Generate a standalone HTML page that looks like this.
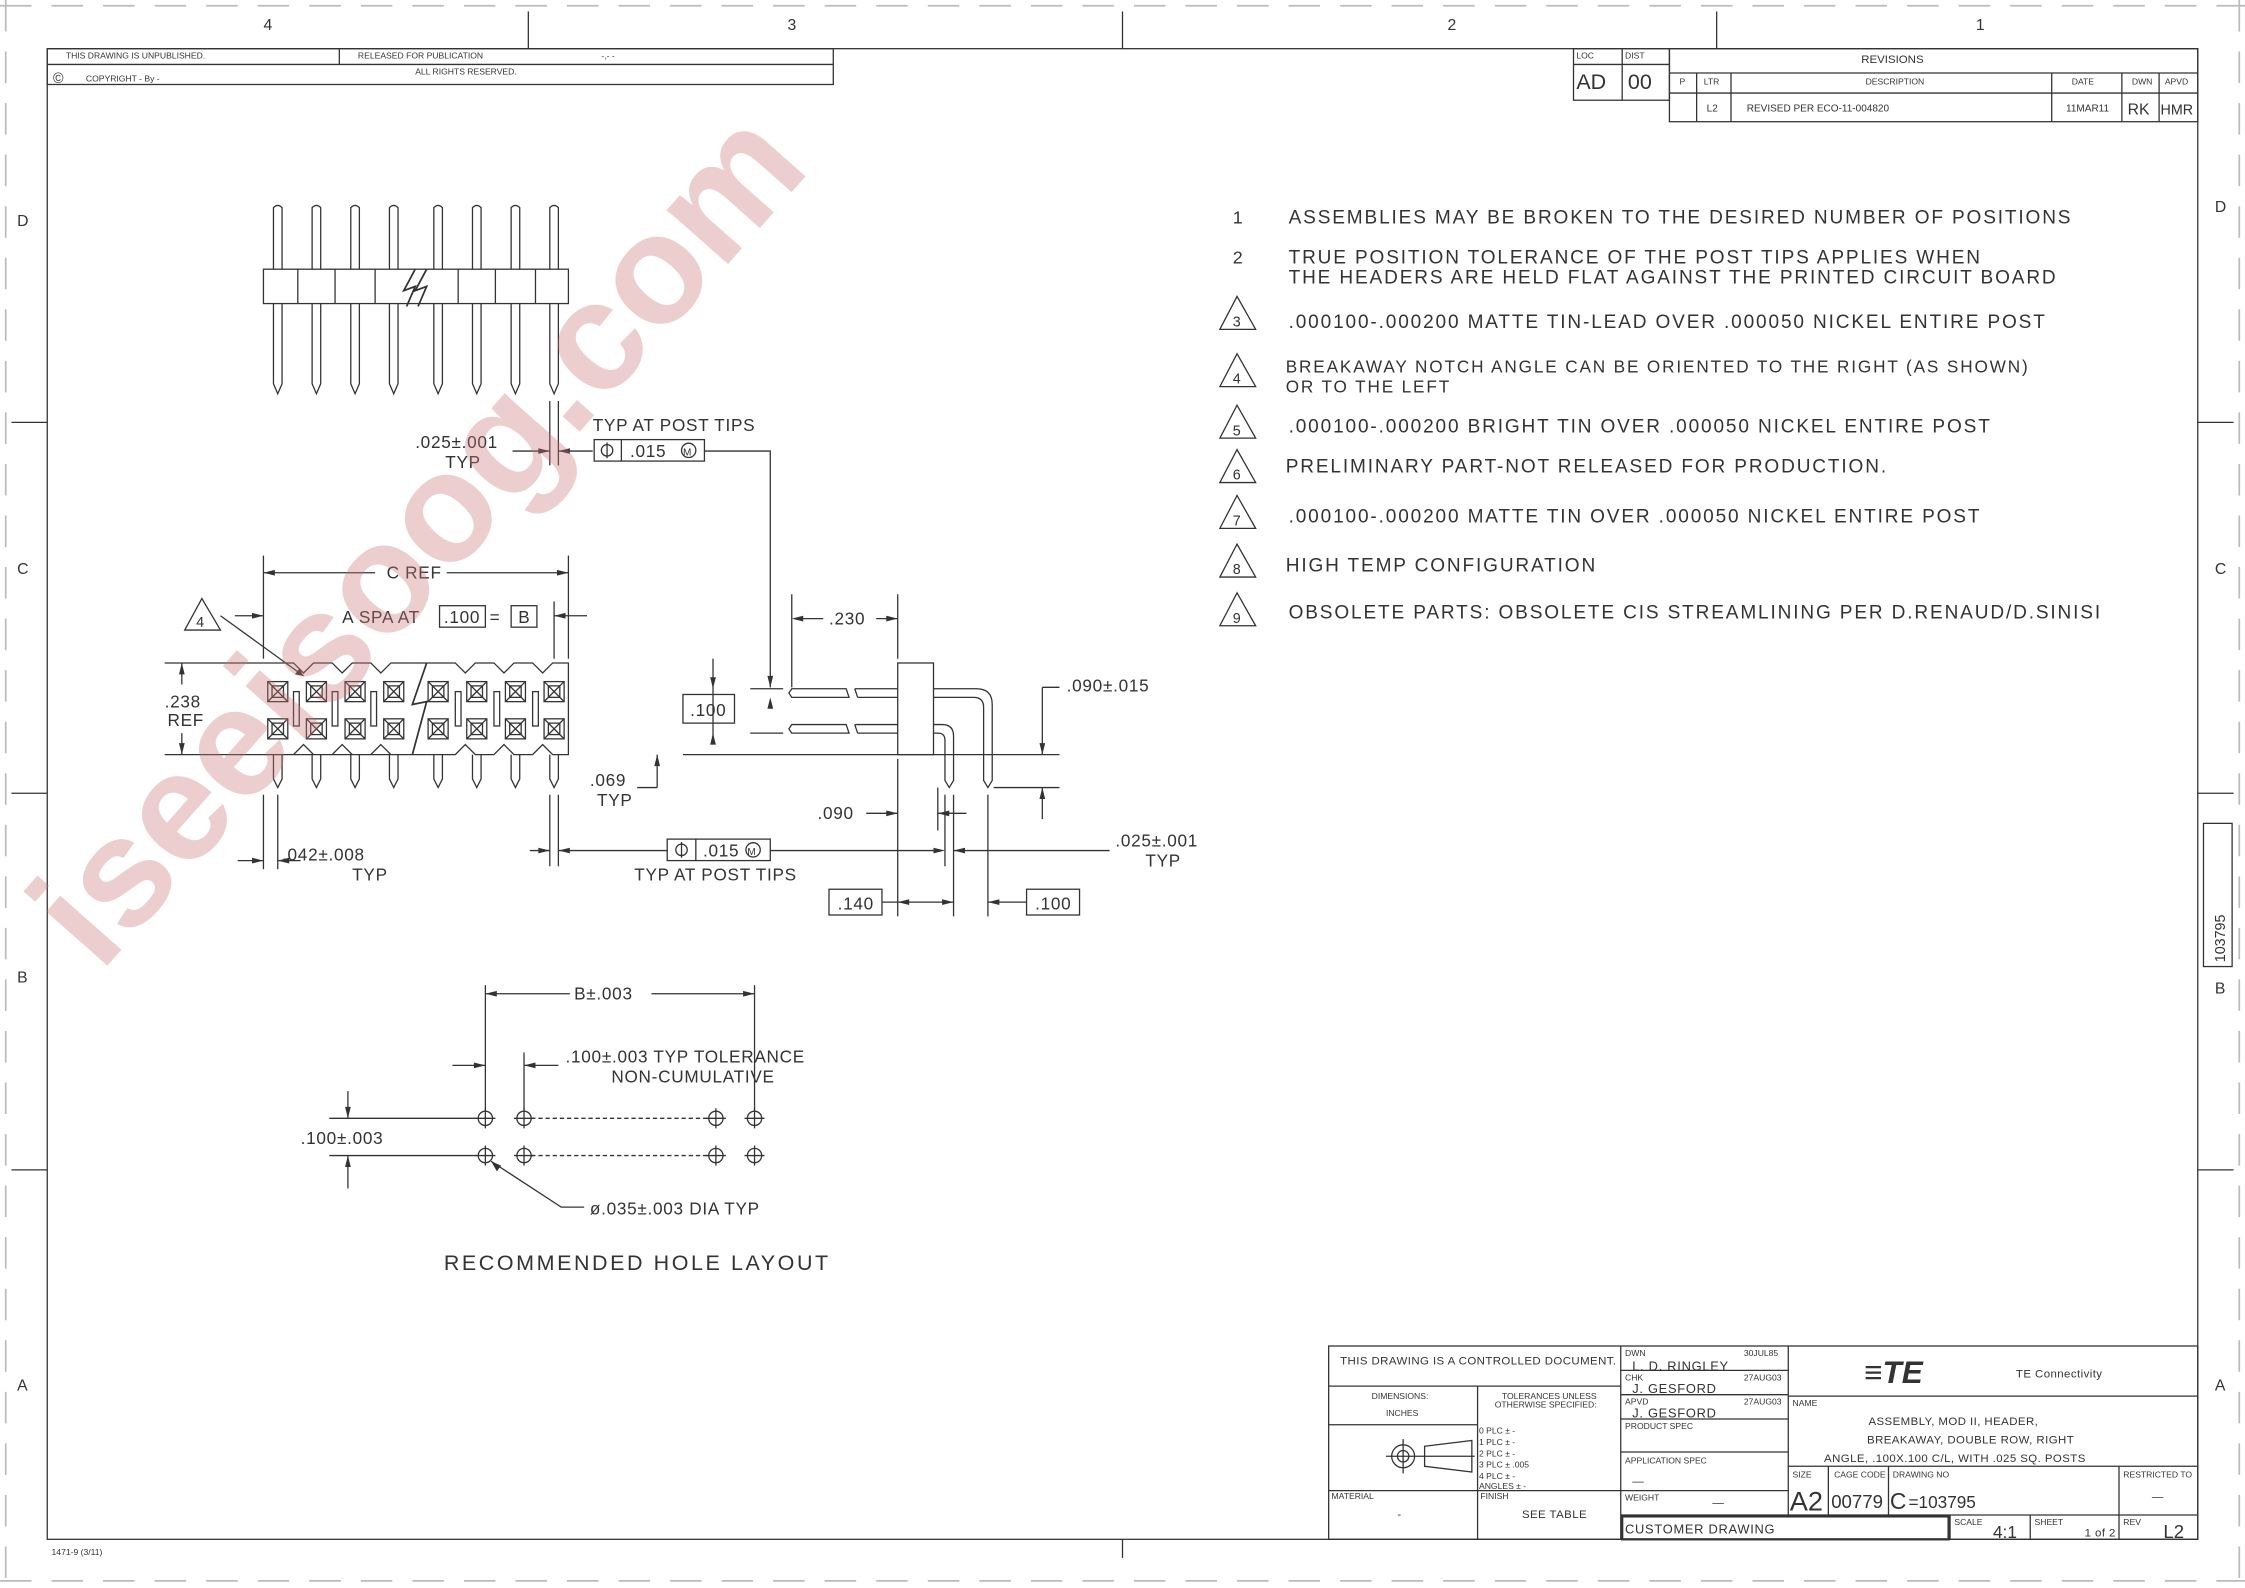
<!DOCTYPE html>
<html><head><meta charset="utf-8"><style>
html,body{margin:0;padding:0;background:#fff}
svg{display:block}
text{font-family:"Liberation Sans",sans-serif;fill:#333}
</style></head><body>
<svg width="2245" height="1588" viewBox="0 0 1568 1109" preserveAspectRatio="none" xmlns="http://www.w3.org/2000/svg">
<g stroke="#bbb" stroke-width="1.2" stroke-dasharray="22,14" fill="none">
<line x1="0" y1="4" x2="1568" y2="4"/><line x1="0" y1="1104" x2="1568" y2="1104"/>
<line x1="4" y1="0" x2="4" y2="1109"/><line x1="1564" y1="0" x2="1564" y2="1109"/>
</g>
<g stroke="#333" stroke-width="0.9" fill="none">
<rect x="33" y="34" width="1502" height="1041"/>
<line x1="369" y1="8" x2="369" y2="34"/><line x1="784" y1="8" x2="784" y2="34"/><line x1="1199" y1="8" x2="1199" y2="34"/>
<line x1="784" y1="1075" x2="784" y2="1088"/>
<line x1="8" y1="295" x2="33" y2="295"/><line x1="8" y1="554" x2="33" y2="554"/><line x1="8" y1="817" x2="33" y2="817"/>
<line x1="1535" y1="295" x2="1560" y2="295"/><line x1="1535" y1="554" x2="1560" y2="554"/><line x1="1535" y1="817" x2="1560" y2="817"/>
<rect x="1539" y="575" width="20" height="100"/>
<rect x="33" y="34" width="549" height="25"/><line x1="33" y1="45" x2="582" y2="45"/><line x1="237" y1="34" x2="237" y2="45"/>
<rect x="1099" y="34" width="67" height="36"/><line x1="1133" y1="34" x2="1133" y2="70"/><line x1="1099" y1="45" x2="1166" y2="45"/>
<rect x="1166" y="34" width="369" height="51"/><line x1="1166" y1="51" x2="1535" y2="51"/><line x1="1166" y1="65" x2="1535" y2="65"/>
<line x1="1185" y1="51" x2="1185" y2="85"/><line x1="1209" y1="51" x2="1209" y2="85"/><line x1="1433" y1="51" x2="1433" y2="85"/><line x1="1482" y1="51" x2="1482" y2="85"/><line x1="1508" y1="51" x2="1508" y2="85"/>
<rect x="928" y="940" width="607" height="135"/>
<line x1="1132" y1="940" x2="1132" y2="1075"/><line x1="1249" y1="940" x2="1249" y2="1058"/>
<line x1="928" y1="968" x2="1132" y2="968"/><line x1="928" y1="995" x2="1032" y2="995"/><line x1="928" y1="1041" x2="1132" y2="1041"/>
<line x1="1032" y1="968" x2="1032" y2="1075"/>
<line x1="1132" y1="957" x2="1249" y2="957"/><line x1="1132" y1="974" x2="1249" y2="974"/><line x1="1132" y1="991" x2="1249" y2="991"/><line x1="1132" y1="1014" x2="1249" y2="1014"/><line x1="1132" y1="1041" x2="1249" y2="1041"/>
<line x1="1249" y1="975" x2="1535" y2="975"/><line x1="1249" y1="1024" x2="1535" y2="1024"/>
<line x1="1132" y1="1058" x2="1535" y2="1058"/>
<line x1="1277" y1="1024" x2="1277" y2="1058"/><line x1="1319" y1="1024" x2="1319" y2="1058"/><line x1="1480" y1="1024" x2="1480" y2="1075"/>
<line x1="1362" y1="1058" x2="1362" y2="1075"/><line x1="1418" y1="1058" x2="1418" y2="1075"/>
<rect x="1133" y="1059" width="228" height="16" stroke-width="1.6"/>
<circle cx="980" cy="1017" r="8"/><circle cx="980" cy="1017" r="4"/><line x1="968" y1="1017" x2="1030" y2="1017"/><line x1="980" y1="1005" x2="980" y2="1029"/>
<path d="M995 1010 L1028 1006 L1028 1028 L995 1024 Z"/>
<path d="M852 230 L864 207 L877 230 Z M852 270 L864 247 L877 270 Z M852 306 L864 283 L877 306 Z M852 337 L864 314 L877 337 Z M852 369 L864 346 L877 369 Z M852 403 L864 380 L877 403 Z M852 437 L864 414 L877 437 Z"/>
<rect x="184" y="188" width="213" height="24"/>
<g>
<path d="M191 188 V145 Q194 142 197 145 V188 M191 212 V268 L194 275 L197 268 V212"/>
<path d="M218 188 V145 Q221 142 224 145 V188 M218 212 V268 L221 275 L224 268 V212"/>
<path d="M245 188 V145 Q248 142 251 145 V188 M245 212 V268 L248 275 L251 268 V212"/>
<path d="M272 188 V145 Q275 142 278 145 V188 M272 212 V268 L275 275 L278 268 V212"/>
<path d="M303 188 V145 Q306 142 309 145 V188 M303 212 V268 L306 275 L309 268 V212"/>
<path d="M330 188 V145 Q333 142 336 145 V188 M330 212 V268 L333 275 L336 268 V212"/>
<path d="M357 188 V145 Q360 142 363 145 V188 M357 212 V268 L360 275 L363 268 V212"/>
<path d="M384 188 V145 Q387 142 390 145 V188 M384 212 V268 L387 275 L390 268 V212"/>
</g>
<path d="M208 188V212 M234 188V212 M262 188V212 M320 188V212 M346 188V212 M374 188V212"/>
<path d="M290 188 L282 203 L290 200 L284 214 M298 188 L290 203 L298 200 L292 214" stroke-width="1.2"/>
<line x1="384" y1="280" x2="384" y2="325"/><line x1="390" y1="280" x2="390" y2="325"/>
<line x1="358" y1="315" x2="384" y2="315"/><line x1="390" y1="315" x2="414" y2="315"/>
<rect x="415" y="307" width="77" height="15"/><line x1="434" y1="307" x2="434" y2="322"/>
<circle cx="424" cy="314.5" r="4"/><line x1="424" y1="309" x2="424" y2="320"/><circle cx="481" cy="314.5" r="5"/>
<path d="M492 315 H538 V480"/>
<path d="M184 463 H205 L212 470 L219 463 H232 L239 470 L246 463 H259 L266 470 L273 463 H286 M298 463 H318 L325 470 L332 463 H345 L352 470 L359 463 H372 L379 470 L386 463 H397 V527 H386 L379 520 L372 527 H359 L352 520 L345 527 H332 L325 520 L318 527 H298 M286 527 H273 L266 520 L259 527 H246 L239 520 L232 527 H219 L212 520 L205 527 H184 Z"/>
<path d="M286 463 L298 463 M286 527 L298 527"/>
<path d="M298 463 L288 492 L298 490 L288 527" stroke-width="1.2"/>
<g id="sq">
<rect x="187" y="476" width="14" height="14"/><rect x="190" y="479" width="8" height="8"/><path d="M187 476 L201 490 M201 476 L187 490"/>
</g>
<use href="#sq" x="27"/><use href="#sq" x="54"/><use href="#sq" x="81"/><use href="#sq" x="112"/><use href="#sq" x="139"/><use href="#sq" x="166"/><use href="#sq" x="193"/>
<use href="#sq" y="26"/><use href="#sq" x="27" y="26"/><use href="#sq" x="54" y="26"/><use href="#sq" x="81" y="26"/><use href="#sq" x="112" y="26"/><use href="#sq" x="139" y="26"/><use href="#sq" x="166" y="26"/><use href="#sq" x="193" y="26"/>
<rect x="205" y="483" width="4" height="24"/><rect x="232" y="483" width="4" height="24"/><rect x="259" y="483" width="4" height="24"/><rect x="318" y="483" width="4" height="24"/><rect x="345" y="483" width="4" height="24"/><rect x="372" y="483" width="4" height="24"/>
<path d="M191 527V544L194 550L197 544V527 M218 527V544L221 550L224 544V527 M245 527V544L248 550L251 544V527 M272 527V544L275 550L278 544V527 M303 527V544L306 550L309 544V527 M330 527V544L333 550L336 544V527 M357 527V544L360 550L363 544V527 M384 527V544L387 550L390 544V527"/>
<line x1="184" y1="388" x2="184" y2="460"/><line x1="397" y1="388" x2="397" y2="460"/>
<line x1="184" y1="400" x2="262" y2="400"/><line x1="312" y1="400" x2="397" y2="400"/>
<line x1="164" y1="430" x2="184" y2="430"/><line x1="387" y1="430" x2="410" y2="430"/>
<line x1="387" y1="420" x2="387" y2="460"/>
<rect x="307" y="423" width="32" height="15"/><rect x="357" y="423" width="18" height="15"/>
<path d="M129 440 L141 418 L154 440 Z"/><path d="M154 430 L212 472"/>
<line x1="115" y1="463" x2="184" y2="463"/><line x1="115" y1="527" x2="184" y2="527"/>
<line x1="127" y1="463" x2="127" y2="478"/><line x1="127" y1="512" x2="127" y2="527"/>
<line x1="184" y1="555" x2="184" y2="607"/><line x1="194" y1="555" x2="194" y2="607"/>
<line x1="166" y1="601" x2="184" y2="601"/><line x1="194" y1="601" x2="210" y2="601"/>
<line x1="384" y1="555" x2="384" y2="605"/><line x1="390" y1="555" x2="390" y2="605"/>
<line x1="370" y1="594" x2="384" y2="594"/><line x1="390" y1="594" x2="466" y2="594"/>
<rect x="466" y="586" width="72" height="15"/><line x1="486" y1="586" x2="486" y2="601"/>
<circle cx="476" cy="593.5" r="4"/><line x1="476" y1="588" x2="476" y2="599"/><circle cx="526" cy="593.5" r="5"/>
<line x1="538" y1="594" x2="655" y2="594"/><line x1="666" y1="594" x2="775" y2="594"/>
<rect x="627" y="463" width="25" height="64"/>
<path d="M524 481 H547 M524 512 H547"/>
<path d="M553 481 H591 L593 487 H553 L551 484 Z M553 506 H591 L593 512 H553 L551 509 Z"/>
<path d="M597 481 H627 M599 487 H627 M597 506 H627 M599 512 H627"/>
<path d="M597 481 L599 487 M597 506 L599 512"/>
<path d="M652 481 H682 Q693 481 693 492 V545 L690 550 L687 545 V494 Q687 487 680 487 H652"/>
<path d="M652 506 H658 Q666 506 666 514 V545 L663 550 L660 545 V517 Q660 512 655 512 H652"/>
<line x1="553" y1="415" x2="553" y2="480"/><line x1="627" y1="415" x2="627" y2="460"/>
<line x1="560" y1="432" x2="575" y2="432"/><line x1="612" y1="432" x2="627" y2="432"/>
<line x1="477" y1="527" x2="740" y2="527"/><line x1="498" y1="460" x2="498" y2="520"/>
<rect x="477" y="485" width="36" height="20"/>
<line x1="459" y1="527" x2="459" y2="550"/><line x1="445" y1="550" x2="459" y2="550"/>
<line x1="694" y1="550" x2="740" y2="550"/><line x1="728" y1="480" x2="728" y2="527"/><line x1="728" y1="550" x2="728" y2="572"/><path d="M728 480 H740"/>
<line x1="627" y1="530" x2="627" y2="640"/><line x1="655" y1="550" x2="655" y2="580"/>
<line x1="605" y1="568" x2="627" y2="568"/><line x1="655" y1="568" x2="675" y2="568"/>
<line x1="660" y1="555" x2="660" y2="605"/><line x1="666" y1="555" x2="666" y2="640"/><line x1="690" y1="555" x2="690" y2="640"/>
<rect x="579" y="621" width="37" height="18"/><line x1="616" y1="630" x2="666" y2="630"/>
<rect x="717" y="621" width="37" height="18"/><line x1="690" y1="630" x2="717" y2="630"/>
<line x1="339" y1="688" x2="339" y2="775"/><line x1="527" y1="688" x2="527" y2="775"/>
<line x1="339" y1="694" x2="398" y2="694"/><line x1="455" y1="694" x2="527" y2="694"/>
<line x1="366" y1="735" x2="366" y2="775"/><line x1="316" y1="744" x2="339" y2="744"/><line x1="366" y1="744" x2="390" y2="744"/>
<line x1="230" y1="781" x2="333" y2="781"/><line x1="230" y1="807" x2="333" y2="807"/>
<line x1="243" y1="807" x2="243" y2="830"/><line x1="243" y1="762" x2="243" y2="781"/>
<circle cx="339" cy="781" r="5"/><circle cx="366" cy="781" r="5"/><circle cx="500" cy="781" r="5"/><circle cx="527" cy="781" r="5"/>
<circle cx="339" cy="807" r="5"/><circle cx="366" cy="807" r="5"/><circle cx="500" cy="807" r="5"/><circle cx="527" cy="807" r="5"/>
<path d="M332 781H346M339 774V788M359 781H373M366 774V788M493 781H507M500 774V788M520 781H534M527 774V788M332 807H346M339 800V814M359 807H373M366 800V814M493 807H507M500 800V814M520 807H534M527 800V814"/>
<line x1="371" y1="781" x2="495" y2="781" stroke-dasharray="3,2"/><line x1="371" y1="807" x2="495" y2="807" stroke-dasharray="3,2"/>
<path d="M343 811 L392 843 H408"/>
</g>
<g fill="#333">
<path d="M384 315 l-8 -2 v4z M390 315 l8 -2 v4z M184 400 l8 -2 v4z M397 400 l-8 -2 v4z M184 430 l-8 -2 v4z M387 430 l8 -2 v4z M127 463 l-2 8 h4z M127 527 l-2 -8 h4z M184 601 l-8 -2 v4z M194 601 l8 -2 v4z M384 594 l-8 -2 v4z M390 594 l8 -2 v4z M553 432 l8 -2 v4z M627 432 l-8 -2 v4z M538 480 l-2 -8 h4z M538 487 l-2 8 h4z M498 481 l-2 -8 h4z M498 512 l-2 8 h4z M459 527 l-2 8 h4z M728 527 l-2 -8 h4z M728 550 l-2 8 h4z M627 568 l-8 -2 v4z M655 568 l8 -2 v4z M660 594 l-8 -2 v4z M666 594 l8 -2 v4z M627 630 l8 -2 v4z M666 630 l-8 -2 v4z M690 630 l8 -2 v4z M339 694 l8 -2 v4z M527 694 l-8 -2 v4z M339 744 l-8 -2 v4z M366 744 l8 -2 v4z M243 781 l-2 -8 h4z M243 807 l-2 8 h4z M343 811 l4 7 l3 -4z M212 472 l-6 -1 l3 -4z"/>
</g>
<g font-size="11">
<text x="184" y="21">4</text><text x="550" y="21">3</text><text x="1011" y="21">2</text><text x="1380" y="21">1</text>
<text x="12" y="158">D</text><text x="12" y="401">C</text><text x="12" y="686">B</text><text x="12" y="971">A</text>
<text x="1547" y="148">D</text><text x="1547" y="401">C</text><text x="1547" y="694">B</text><text x="1547" y="971">A</text>
<text x="1554" y="672" font-size="10" transform="rotate(-90 1554 672)">103795</text>
</g>
<g font-size="6">
<text x="46" y="41">THIS DRAWING IS UNPUBLISHED.</text><text x="250" y="41">RELEASED FOR PUBLICATION</text><text x="420" y="41">-,-  -</text>
<text x="60" y="57">COPYRIGHT  -    By -</text><text x="290" y="52">ALL RIGHTS RESERVED.</text>
<text x="1101" y="41">LOC</text><text x="1135" y="41">DIST</text><text x="1173" y="59">P</text><text x="1190" y="59">LTR</text><text x="1303" y="59">DESCRIPTION</text><text x="1447" y="59">DATE</text><text x="1489" y="59">DWN</text><text x="1512" y="59">APVD</text>
<text x="1220" y="78" font-size="7">REVISED PER ECO-11-004820</text><text x="1443" y="78" font-size="7">11MAR11</text><text x="1192" y="78" font-size="7">L2</text>
<text x="1135" y="947">DWN</text><text x="1218" y="947">30JUL85</text><text x="1135" y="964">CHK</text><text x="1218" y="964">27AUG03</text><text x="1135" y="981">APVD</text><text x="1218" y="981">27AUG03</text>
<text x="1135" y="998">PRODUCT SPEC</text><text x="1135" y="1022">APPLICATION SPEC</text><text x="1135" y="1048">WEIGHT</text>
<text x="1252" y="982">NAME</text><text x="1252" y="1032">SIZE</text><text x="1281" y="1032">CAGE CODE</text><text x="1322" y="1032">DRAWING NO</text><text x="1483" y="1032">RESTRICTED TO</text>
<text x="1365" y="1065">SCALE</text><text x="1421" y="1065">SHEET</text><text x="1483" y="1065">REV</text>
<text x="930" y="1047">MATERIAL</text><text x="1034" y="1047">FINISH</text>
<text x="1049" y="977">TOLERANCES UNLESS</text><text x="1044" y="983">OTHERWISE SPECIFIED:</text>
<text x="958" y="977">DIMENSIONS:</text><text x="968" y="989">INCHES</text>
<text x="1033" y="1001">0 PLC      ±  -</text><text x="1033" y="1009">1 PLC      ±  -</text><text x="1033" y="1017">2 PLC      ±  -</text><text x="1033" y="1025">3 PLC      ±  .005</text><text x="1033" y="1033">4 PLC      ±  -</text><text x="1033" y="1040">ANGLES              ±  -</text>
</g>
<text x="37" y="58" font-size="10">©</text>
<text x="1101" y="62" font-size="15" fill="#666">AD</text><text x="1137" y="62" font-size="15" fill="#666">00</text>
<text x="1300" y="44" font-size="8">REVISIONS</text>
<text x="1486" y="80" font-size="11">RK</text><text x="1509" y="80" font-size="10">HMR</text>
<g font-size="8" letter-spacing="0.3">
<text x="936" y="953">THIS DRAWING IS A CONTROLLED DOCUMENT.</text>
<text x="1063" y="1060">SEE TABLE</text><text x="976" y="1060">-</text>
<text x="1140" y="1037">—</text><text x="1196" y="1052">—</text>
<text x="1305" y="995">ASSEMBLY, MOD II, HEADER,</text>
<text x="1304" y="1008">BREAKAWAY, DOUBLE ROW, RIGHT</text>
<text x="1274" y="1021">ANGLE, .100X.100 C/L, WITH .025 SQ. POSTS</text>
<text x="1408" y="962">TE Connectivity</text>
<text x="1503" y="1048">—</text>
<text x="1456" y="1073">1 of 2</text>
</g>
<g font-size="9" letter-spacing="0.5">
<text x="1140" y="957">L. D. RINGLEY</text><text x="1140" y="973">J. GESFORD</text><text x="1140" y="990">J. GESFORD</text>
<text x="1135" y="1071">CUSTOMER DRAWING</text>
</g>
<text x="1250" y="1055" font-size="19" fill="#666">A2</text><text x="1279" y="1053" font-size="13" fill="#555">00779</text>
<text x="1320" y="1054" font-size="16" fill="#333">C</text><text x="1333" y="1053" font-size="12" fill="#333">=103795</text>
<text x="1392" y="1074" font-size="12">4:1</text><text x="1511" y="1074" font-size="13" fill="#666">L2</text>
<text x="1302" y="966" font-size="22" font-weight="bold" font-style="italic" fill="#111">≡TE</text>
<text x="36" y="1086" font-size="6">1471-9  (3/11)</text>
<g font-size="13.3" letter-spacing="1.3">
<text x="861" y="156" font-size="12.5">1</text><text x="900" y="156">ASSEMBLIES MAY BE BROKEN TO THE DESIRED NUMBER OF POSITIONS</text>
<text x="861" y="184" font-size="12.5">2</text><text x="900" y="184">TRUE POSITION TOLERANCE OF THE POST TIPS APPLIES WHEN</text><text x="900" y="198">THE HEADERS ARE HELD FLAT AGAINST THE PRINTED CIRCUIT BOARD</text>
<text x="861" y="228" font-size="10">3</text><text x="900" y="229">.000100-.000200 MATTE TIN-LEAD OVER .000050 NICKEL ENTIRE POST</text>
<text x="861" y="268" font-size="10">4</text><text x="898" y="260" font-size="12">BREAKAWAY NOTCH ANGLE CAN BE ORIENTED TO THE RIGHT (AS SHOWN)</text><text x="898" y="274" font-size="12">OR TO THE LEFT</text>
<text x="861" y="304" font-size="10">5</text><text x="900" y="302">.000100-.000200 BRIGHT TIN OVER .000050 NICKEL ENTIRE POST</text>
<text x="861" y="335" font-size="10">6</text><text x="898" y="330">PRELIMINARY PART-NOT RELEASED FOR PRODUCTION.</text>
<text x="861" y="367" font-size="10">7</text><text x="900" y="365">.000100-.000200 MATTE TIN OVER .000050 NICKEL ENTIRE POST</text>
<text x="861" y="401" font-size="10">8</text><text x="898" y="399">HIGH TEMP CONFIGURATION</text>
<text x="861" y="435" font-size="10">9</text><text x="900" y="432">OBSOLETE PARTS: OBSOLETE CIS STREAMLINING PER D.RENAUD/D.SINISI</text>
</g>
<g font-size="12" letter-spacing="0.5">
<text x="414" y="301">TYP AT POST TIPS</text>
<text x="290" y="313">.025±.001</text><text x="311" y="327">TYP</text>
<text x="440" y="319">.015</text><text x="477" y="318" font-size="7">M</text>
<text x="270" y="404">C REF</text>
<text x="239" y="435">A SPA AT</text><text x="310" y="435">.100</text><text x="342" y="435">=</text><text x="362" y="435">B</text>
<text x="137" y="438" font-size="10">4</text>
<text x="115" y="494">.238</text><text x="117" y="507">REF</text>
<text x="579" y="436">.230</text>
<text x="482" y="500">.100</text>
<text x="745" y="483">.090±.015</text>
<text x="412" y="549">.069</text><text x="417" y="563">TYP</text>
<text x="571" y="572">.090</text>
<text x="197" y="601">.042±.008</text><text x="246" y="615">TYP</text>
<text x="491" y="598">.015</text><text x="522" y="597" font-size="7">M</text>
<text x="443" y="615">TYP AT POST TIPS</text>
<text x="779" y="591">.025±.001</text><text x="800" y="605">TYP</text>
<text x="585" y="635">.140</text><text x="723" y="635">.100</text>
<text x="401" y="698">B±.003</text>
<text x="395" y="742">.100±.003 TYP TOLERANCE</text><text x="427" y="756">NON-CUMULATIVE</text>
<text x="210" y="799">.100±.003</text>
<text x="412" y="848">ø.035±.003 DIA TYP</text>
</g>
<text x="310" y="887" font-size="15" letter-spacing="1.8">RECOMMENDED HOLE LAYOUT</text>
<text x="70" y="680" font-size="108" font-weight="bold" style="fill:#c87474;fill-opacity:0.35" transform="rotate(-48.5 70 680)">iseeisoog.com</text>
</svg>
</body></html>
